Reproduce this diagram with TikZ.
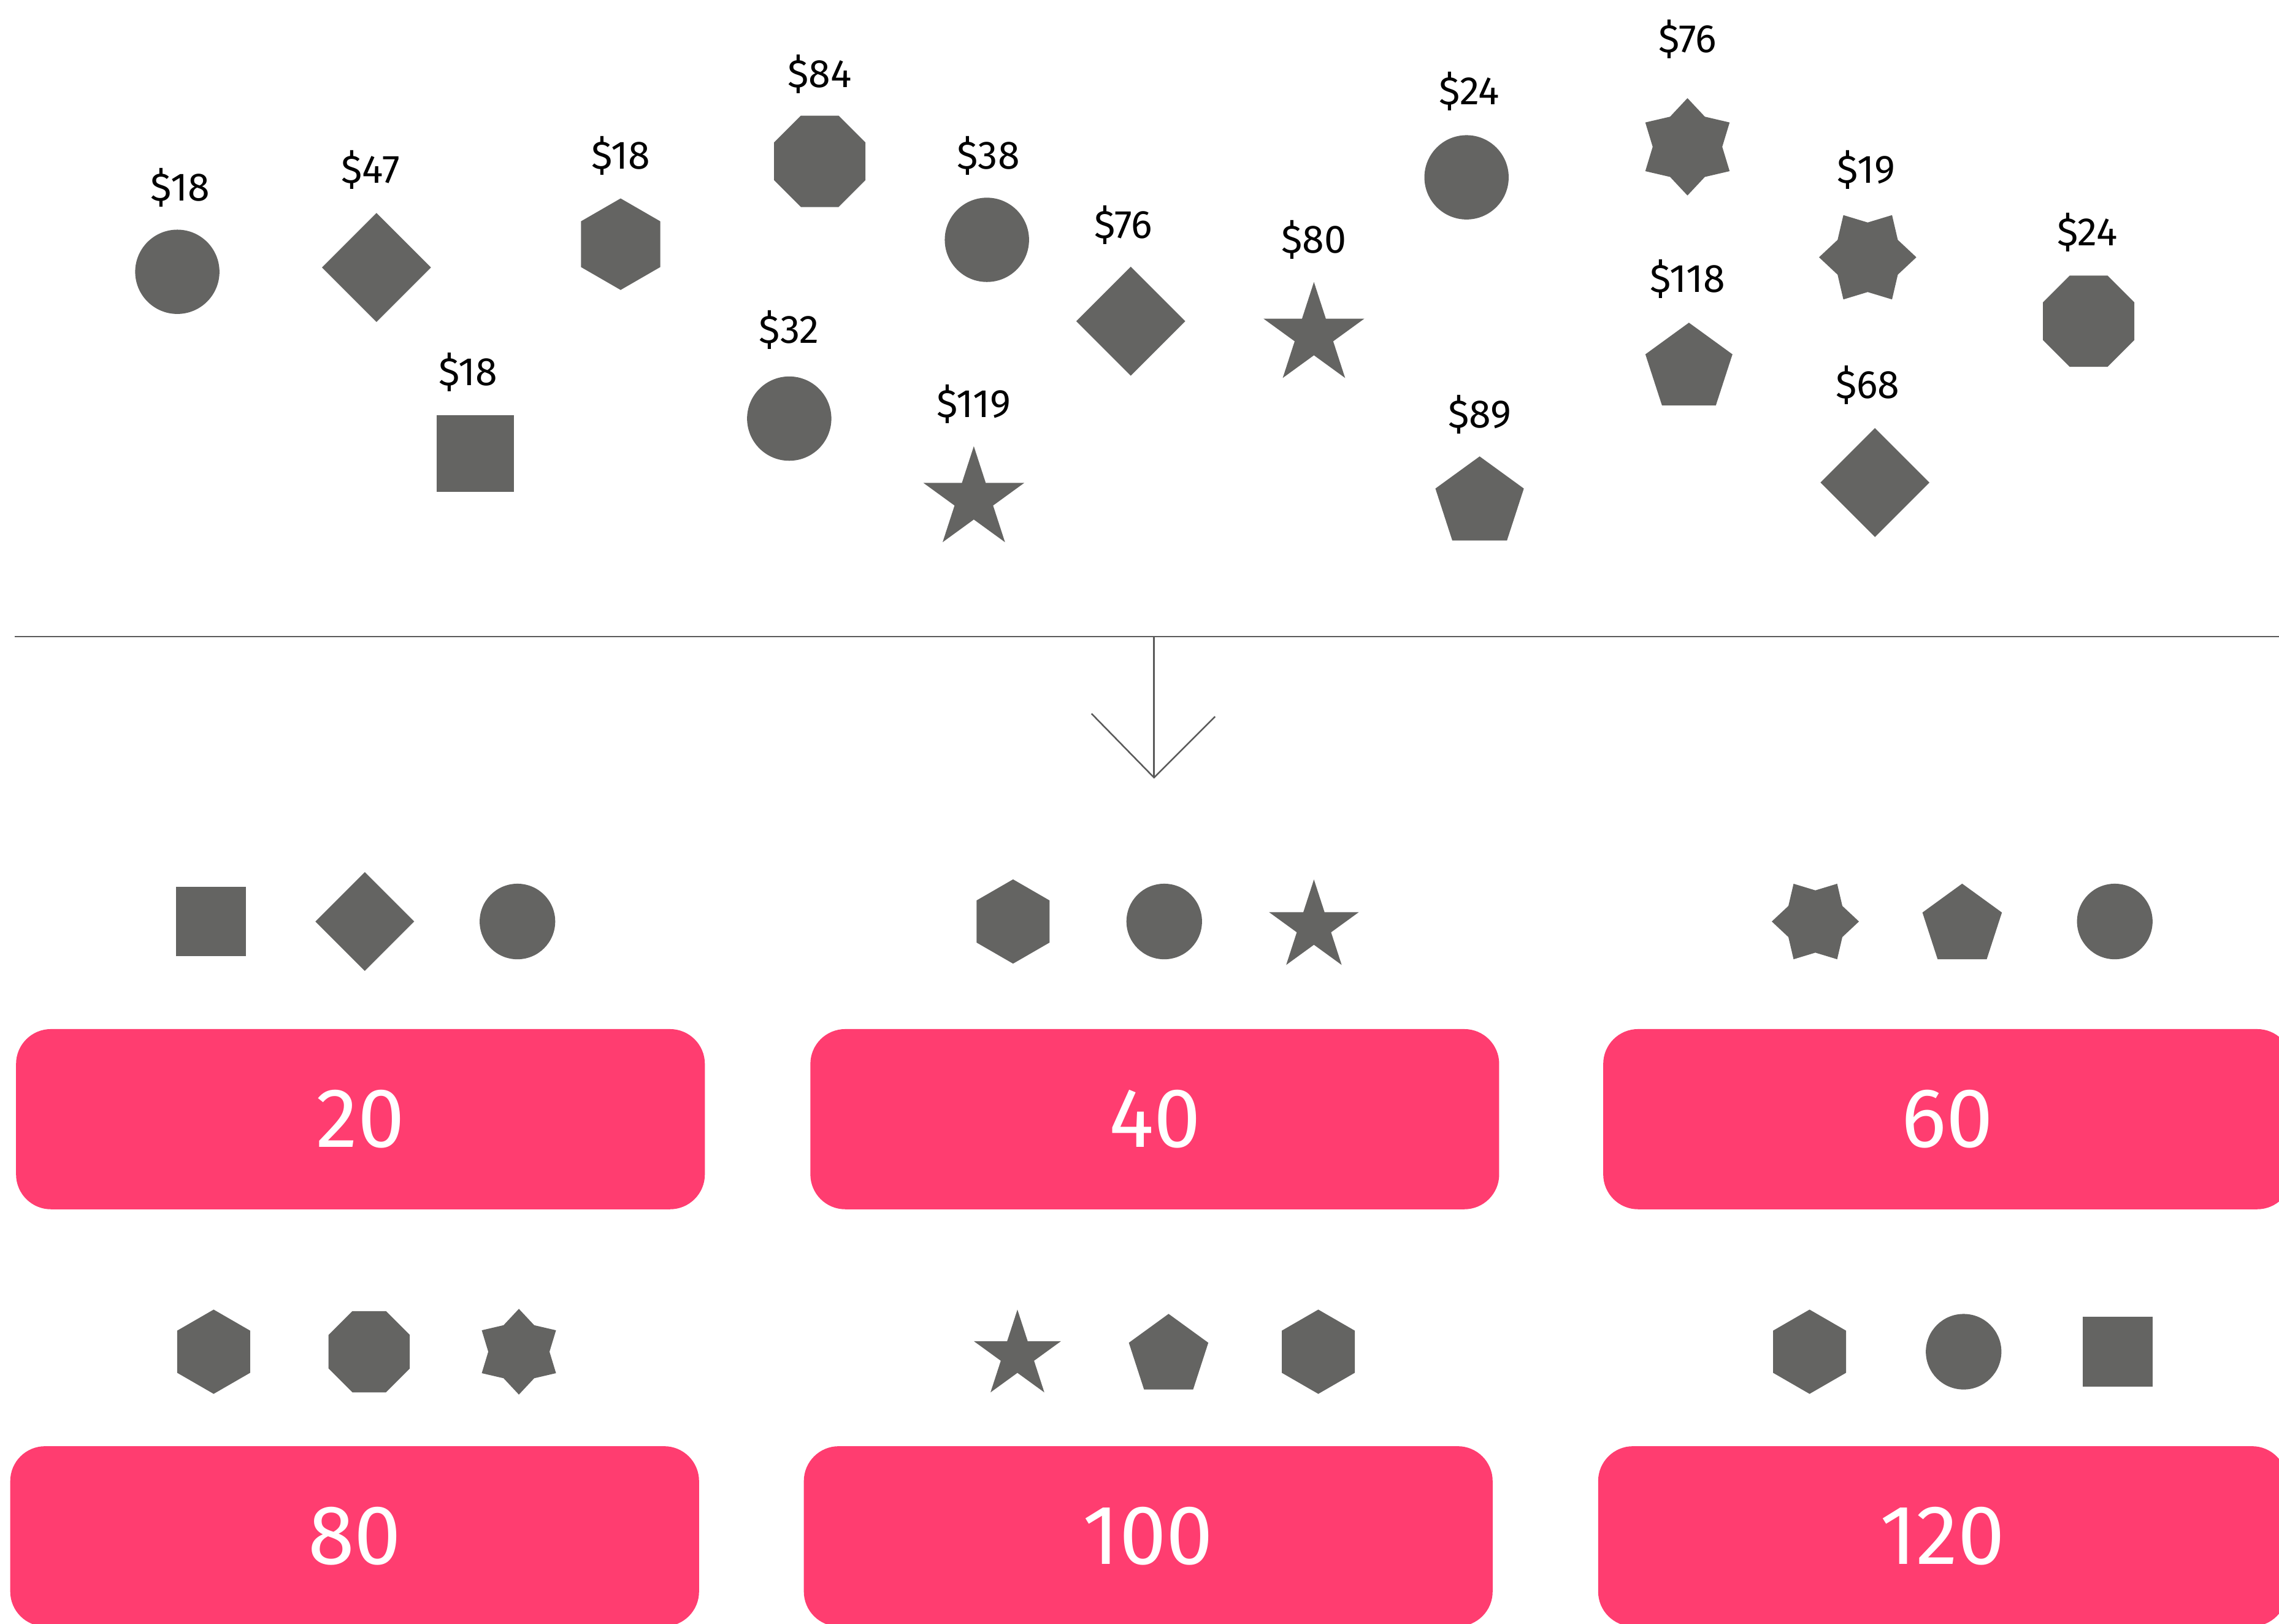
\documentclass[tikz,border=0pt]{standalone}
\usepackage{fontspec}
\setmainfont{Fira Sans}
\usetikzlibrary{shapes.geometric}
\definecolor{shapegray}{RGB}{100,100,98}
\definecolor{boxpink}{RGB}{255,61,112}
\definecolor{linegray}{RGB}{90,90,90}
\tikzset{
  sh/.style={fill=shapegray, draw=none, inner sep=0pt, outer sep=0pt},
  circ/.style={sh, circle, minimum size=#1},
  dia/.style={sh, diamond, minimum width=#1, minimum height=#1},
  sqr/.style={sh, rectangle, minimum width=#1, minimum height=#1},
  hexa/.style={sh, regular polygon, regular polygon sides=6, shape border rotate=90, minimum size=#1},
  octa/.style={sh, regular polygon, regular polygon sides=8, minimum size=#1},
  penta/.style={sh, regular polygon, regular polygon sides=5, minimum size=#1},
  starfive/.style={sh, star, star points=5, star point ratio=2.618, minimum size=#1},
  starsixv/.style={sh, star, star points=6, star point ratio=1.4, minimum size=#1},
  starsixh/.style={sh, star, star points=6, star point ratio=1.4, shape border rotate=90, minimum size=#1},
  lbl/.style={font=\fontsize{15.5}{18}\selectfont, text=black, inner sep=0pt},
  pricebox/.style={fill=boxpink, draw=none, rounded corners=0.48cm, minimum width=9.48cm, minimum height=2.48cm, inner sep=0pt, text=white, font=\fontsize{33}{38}\selectfont},
  conn/.style={draw=linegray, line width=0.6pt}
}
\begin{document}
\begin{tikzpicture}[x=0.02cm, y=-0.02cm]
\useasboundingbox (0,0) rectangle (1568,1117);
% top scattered shapes
\node[circ=1.16cm] (c1) at (122,187) {};
\node[lbl] (l1) at (124,129) {\$18};
\node[dia=1.5cm] (d1) at (259,184) {};
\node[lbl] (l2) at (255,117) {\$47};
\node[hexa=1.26cm] (h1) at (427,168) {};
\node[lbl] (l3) at (427,107) {\$18};
\node[sqr=1.06cm] (s1) at (327,312) {};
\node[lbl] (l4) at (322,256) {\$18};
\node[octa=1.36cm] (o1) at (564,111) {};
\node[lbl] (l5) at (564,51) {\$84};
\node[circ=1.16cm] (c2) at (679,165) {};
\node[lbl] (l6) at (680,107) {\$38};
\node[circ=1.16cm] (c3) at (543,288) {};
\node[lbl] (l7) at (543,227) {\$32};
\node[starfive=1.46cm] (st1) at (670,343.5) {};
\node[lbl] (l8) at (670,278) {\$119};
\node[dia=1.5cm] (d2) at (778,221) {};
\node[lbl] (l9) at (773,155) {\$76};
\node[starfive=1.46cm] (st2) at (904,230.5) {};
\node[lbl] (l10) at (904,165) {\$80};
\node[circ=1.16cm] (c4) at (1009,122) {};
\node[lbl] (l11) at (1011,63) {\$24};
\node[penta=1.28cm] (p1) at (1018,346) {};
\node[lbl] (l12) at (1018,285) {\$89};
\node[starsixv=1.34cm] (x1) at (1161,101) {};
\node[lbl] (l13) at (1161,27) {\$76};
\node[penta=1.26cm] (p2) at (1162,253.5) {};
\node[lbl] (l14) at (1161,192) {\$118};
\node[starsixh=1.34cm] (x2) at (1285,177) {};
\node[lbl] (l15) at (1284,117) {\$19};
\node[octa=1.36cm] (o2) at (1437,221) {};
\node[lbl] (l16) at (1436,160) {\$24};
\node[dia=1.5cm] (d3) at (1290,332) {};
\node[lbl] (l17) at (1285,265) {\$68};
% divider and arrow
\coordinate (hl) at (10,438);
\coordinate (hr) at (1568,438);
\coordinate (atop) at (794,438);
\coordinate (atip) at (794,535);
\coordinate (aleft) at (751,491);
\coordinate (aright) at (836,493);
\draw[conn] (hl) -- (hr);
\draw[conn] (atop) -- (atip);
\draw[conn] (aleft) -- (atip) -- (aright);
% row 1 groups
\node[sqr=0.96cm] (g1a) at (145,634) {};
\node[dia=1.36cm] (g1b) at (251,634) {};
\node[circ=1.04cm] (g1c) at (356,634) {};
\node[hexa=1.16cm] (g2a) at (697,634) {};
\node[circ=1.04cm] (g2b) at (801,634) {};
\node[starfive=1.30cm] (g2c) at (904,637.6) {};
\node[starsixh=1.2cm] (g3a) at (1249,634) {};
\node[penta=1.15cm] (g3b) at (1350,636.7) {};
\node[circ=1.04cm] (g3c) at (1455,634) {};
\node[pricebox] (b1) at (248,770) {20};
\node[pricebox] (b2) at (794.5,770) {40};
\node[pricebox] (b3) at (1340,770) {60};
% row 2 groups
\node[hexa=1.16cm] (g4a) at (147,930) {};
\node[octa=1.21cm] (g4b) at (254,930) {};
\node[starsixv=1.18cm] (g4c) at (357,930) {};
\node[starfive=1.26cm] (g5a) at (700,932.5) {};
\node[penta=1.15cm] (g5b) at (804,932.7) {};
\node[hexa=1.16cm] (g5c) at (907,930) {};
\node[hexa=1.16cm] (g6a) at (1245,930) {};
\node[circ=1.04cm] (g6b) at (1351,930) {};
\node[sqr=0.96cm] (g6c) at (1457,930) {};
\node[pricebox] (b4) at (244,1057) {80};
\node[pricebox] (b5) at (790,1057) {100};
\node[pricebox] (b6) at (1336.5,1057) {120};
\end{tikzpicture}
\end{document}
